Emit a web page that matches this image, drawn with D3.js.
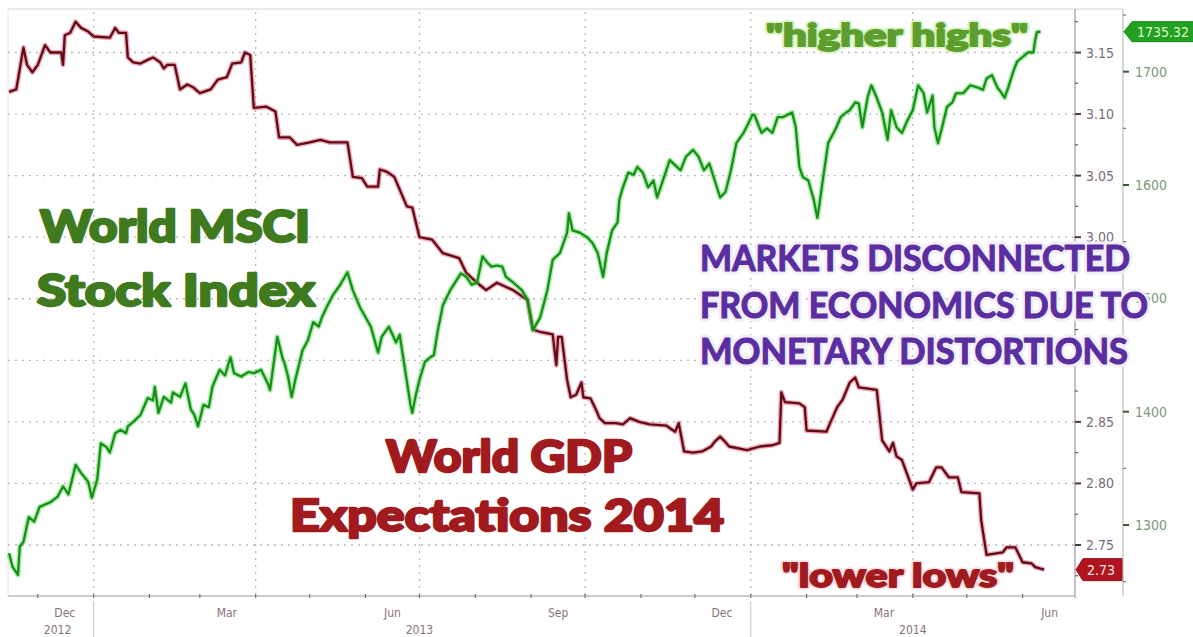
<!DOCTYPE html>
<html><head><meta charset="utf-8">
<script src="https://cdn.jsdelivr.net/npm/d3@7"></script>
<style>body{margin:0;background:#fff;} svg{display:block;}</style>
</head><body>
<svg id="c" width="1193" height="637"></svg>
<script>
// ---------- DATA ----------
const gdpDates = ["2012-11-15","2012-11-19","2012-11-20","2012-11-23","2012-11-25","2012-11-28","2012-12-01","2012-12-05","2012-12-08","2012-12-14","2012-12-15","2012-12-16","2012-12-19","2012-12-22","2012-12-25","2012-12-29","2013-01-01","2013-01-10","2013-01-13","2013-01-15","2013-01-19","2013-01-20","2013-01-23","2013-01-27","2013-01-31","2013-02-03","2013-02-07","2013-02-09","2013-02-11","2013-02-15","2013-02-18","2013-02-22","2013-02-25","2013-03-01","2013-03-07","2013-03-11","2013-03-16","2013-03-19","2013-03-24","2013-03-26","2013-03-29","2013-03-31","2013-04-07","2013-04-12","2013-04-14","2013-04-20","2013-04-24","2013-05-01","2013-05-07","2013-05-12","2013-05-22","2013-05-25","2013-05-30","2013-06-02","2013-06-08","2013-06-09","2013-06-13","2013-06-17","2013-06-24","2013-06-27","2013-07-01","2013-07-08","2013-07-14","2013-07-23","2013-07-27","2013-08-02","2013-08-07","2013-08-13","2013-08-16","2013-08-22","2013-08-30","2013-09-02","2013-09-06","2013-09-13","2013-09-15","2013-09-16","2013-09-18","2013-09-21","2013-09-23","2013-09-26","2013-09-29","2013-09-30","2013-10-04","2013-10-07","2013-10-09","2013-10-12","2013-10-18","2013-10-22","2013-10-26","2013-10-31","2013-11-06","2013-11-15","2013-11-20","2013-11-22","2013-11-25","2013-11-30","2013-12-05","2013-12-10","2013-12-12","2013-12-15","2013-12-17","2013-12-20","2013-12-30","2014-01-06","2014-01-13","2014-01-17","2014-01-18","2014-01-20","2014-01-28","2014-01-31","2014-02-01","2014-02-12","2014-02-15","2014-02-18","2014-02-21","2014-02-25","2014-02-28","2014-03-02","2014-03-12","2014-03-15","2014-03-19","2014-03-21","2014-03-23","2014-03-26","2014-03-30","2014-04-01","2014-04-03","2014-04-10","2014-04-14","2014-04-17","2014-04-21","2014-04-26","2014-04-28","2014-05-08","2014-05-09","2014-05-12","2014-05-21","2014-05-23","2014-05-28","2014-06-01","2014-06-06","2014-06-08","2014-06-13"];
const gdpValues = [3.118,3.120,3.128,3.154,3.140,3.134,3.140,3.156,3.150,3.150,3.140,3.164,3.166,3.175,3.170,3.167,3.163,3.162,3.170,3.166,3.166,3.146,3.142,3.141,3.144,3.146,3.142,3.137,3.140,3.140,3.120,3.124,3.122,3.117,3.120,3.128,3.130,3.141,3.142,3.150,3.148,3.105,3.106,3.102,3.081,3.081,3.075,3.077,3.079,3.077,3.077,3.049,3.048,3.041,3.041,3.055,3.053,3.049,3.025,3.024,3.000,2.998,2.987,2.983,2.971,2.963,2.957,2.963,2.961,2.957,2.949,2.925,2.923,2.921,2.896,2.919,2.919,2.884,2.870,2.872,2.882,2.870,2.869,2.860,2.853,2.849,2.849,2.848,2.853,2.850,2.848,2.847,2.842,2.849,2.826,2.825,2.826,2.830,2.834,2.838,2.835,2.830,2.827,2.830,2.831,2.833,2.874,2.866,2.865,2.862,2.843,2.842,2.852,2.862,2.868,2.882,2.886,2.878,2.876,2.835,2.826,2.833,2.822,2.819,2.803,2.795,2.800,2.801,2.813,2.813,2.805,2.805,2.793,2.792,2.770,2.742,2.744,2.748,2.748,2.736,2.735,2.732,2.730];

const msciDates = ["2012-11-15","2012-11-17","2012-11-20","2012-11-21","2012-11-23","2012-11-26","2012-11-29","2012-12-02","2012-12-05","2012-12-08","2012-12-12","2012-12-15","2012-12-18","2012-12-22","2012-12-25","2012-12-28","2012-12-29","2012-12-31","2013-01-03","2013-01-05","2013-01-08","2013-01-10","2013-01-13","2013-01-16","2013-01-19","2013-01-20","2013-01-23","2013-01-27","2013-01-31","2013-02-03","2013-02-04","2013-02-06","2013-02-09","2013-02-13","2013-02-14","2013-02-18","2013-02-21","2013-02-24","2013-02-26","2013-02-28","2013-03-03","2013-03-06","2013-03-08","2013-03-12","2013-03-15","2013-03-18","2013-03-20","2013-03-24","2013-03-28","2013-03-31","2013-04-04","2013-04-08","2013-04-09","2013-04-13","2013-04-16","2013-04-17","2013-04-19","2013-04-21","2013-04-23","2013-04-27","2013-04-30","2013-05-03","2013-05-06","2013-05-08","2013-05-11","2013-05-14","2013-05-18","2013-05-22","2013-05-25","2013-05-29","2013-06-04","2013-06-08","2013-06-10","2013-06-14","2013-06-18","2013-06-20","2013-06-23","2013-06-26","2013-06-27","2013-06-29","2013-07-01","2013-07-04","2013-07-07","2013-07-09","2013-07-11","2013-07-14","2013-07-18","2013-07-24","2013-07-27","2013-07-30","2013-08-02","2013-08-05","2013-08-08","2013-08-10","2013-08-13","2013-08-16","2013-08-18","2013-08-22","2013-08-27","2013-08-30","2013-09-02","2013-09-06","2013-09-10","2013-09-13","2013-09-17","2013-09-21","2013-09-22","2013-09-24","2013-09-28","2013-10-02","2013-10-05","2013-10-08","2013-10-11","2013-10-13","2013-10-16","2013-10-19","2013-10-20","2013-10-22","2013-10-25","2013-10-28","2013-10-30","2013-11-02","2013-11-05","2013-11-08","2013-11-10","2013-11-13","2013-11-17","2013-11-21","2013-11-23","2013-11-26","2013-11-30","2013-12-03","2013-12-06","2013-12-09","2013-12-12","2013-12-15","2013-12-18","2013-12-21","2013-12-24","2013-12-28","2014-01-02","2014-01-03","2014-01-07","2014-01-10","2014-01-13","2014-01-16","2014-01-19","2014-01-24","2014-01-26","2014-01-28","2014-01-30","2014-02-02","2014-02-05","2014-02-07","2014-02-08","2014-02-10","2014-02-13","2014-02-17","2014-02-20","2014-02-23","2014-02-25","2014-02-28","2014-03-02","2014-03-04","2014-03-07","2014-03-09","2014-03-12","2014-03-15","2014-03-18","2014-03-20","2014-03-23","2014-03-26","2014-03-29","2014-04-01","2014-04-04","2014-04-07","2014-04-09","2014-04-12","2014-04-13","2014-04-15","2014-04-17","2014-04-20","2014-04-23","2014-04-25","2014-04-29","2014-05-03","2014-05-07","2014-05-10","2014-05-12","2014-05-15","2014-05-18","2014-05-20","2014-05-22","2014-05-24","2014-05-27","2014-05-29","2014-06-01","2014-06-04","2014-06-07","2014-06-08","2014-06-09","2014-06-11"];
const msciValues = [1275,1263,1256,1281,1285,1307,1303,1316,1318,1320,1325,1334,1327,1353,1346,1340,1338,1324,1340,1372,1369,1364,1381,1384,1381,1387,1391,1397,1412,1410,1422,1399,1413,1408,1417,1413,1425,1402,1397,1387,1406,1404,1422,1437,1432,1448,1434,1431,1435,1434,1437,1424,1419,1466,1447,1443,1431,1413,1428,1454,1463,1479,1475,1484,1494,1503,1512,1523,1507,1492,1475,1452,1466,1475,1461,1468,1437,1406,1399,1415,1428,1444,1448,1450,1470,1494,1507,1522,1519,1512,1514,1537,1531,1528,1529,1528,1519,1514,1507,1499,1472,1483,1507,1534,1540,1558,1575,1560,1558,1554,1549,1540,1519,1540,1560,1567,1587,1598,1611,1609,1616,1611,1598,1604,1589,1603,1622,1616,1613,1625,1631,1625,1613,1619,1604,1589,1594,1613,1637,1646,1662,1662,1646,1650,1646,1660,1660,1664,1651,1616,1607,1604,1587,1571,1581,1604,1637,1649,1660,1664,1666,1673,1672,1651,1678,1688,1677,1664,1640,1666,1651,1646,1657,1666,1688,1681,1664,1679,1651,1637,1649,1669,1673,1681,1681,1688,1686,1684,1694,1697,1686,1682,1677,1686,1701,1709,1713,1717,1717,1728,1735,1735.32];

const gdpTicks = [3.15,3.10,3.05,3.00,2.95,2.90,2.85,2.80,2.75];
const gdpTickLabels = ["3.15","3.10","3.05","3.00","","","2.85","2.80","2.75"]; // 2.95 / 2.90 are hidden under the annotation
const gdpMinorTicks = [3.175,3.125,3.075,3.025,2.975,2.925,2.875,2.825,2.775,2.725];
const msciTicks = [1700,1600,1500,1400,1300];
const msciMinorTicks = [1750,1650,1550,1450,1350,1250];
const monthLabelNames = ["Dec","Mar","Jun","Sep","Dec","Mar","Jun"];
const monthLabelDates = ["2012-12-16","2013-03-16","2013-06-16","2013-09-16","2013-12-16","2014-03-16","2014-06-16"];
const yearLabelNames = ["2012","2013","2014"];
const yearLabelDates = ["2012-12-12","2013-07-01","2014-04-01"];
const yearBoundaries = ["2013-01-01","2014-01-01"];

// ---------- SETUP ----------
const parse = d3.timeParse("%Y-%m-%d");
const gdp = gdpDates.map((d,i)=>({date:parse(d), v:gdpValues[i]}));
const msci = msciDates.map((d,i)=>({date:parse(d), v:msciValues[i]}));

const L = 8, R = 1075, T = 9, B = 596, R2 = 1123;
const svg = d3.select("#c");
const axisFont = "Liberation Sans Narrow, DejaVu Sans Condensed, sans-serif";

const x = d3.scaleTime().domain([parse("2012-11-15"), parse("2014-06-29")]).range([9, 1073]);
const yG = d3.scaleLinear().domain([2.75, 3.15]).range([545, 52.5]);
const yM = d3.scaleLinear().domain([1300, 1700]).range([525, 71.7]);

// frame
svg.append("line").attr("x1",L).attr("x2",R2).attr("y1",T).attr("y2",T).attr("stroke","#d4d4d8").attr("stroke-width",1.2);
svg.append("line").attr("x1",L).attr("x2",L).attr("y1",T).attr("y2",B).attr("stroke","#e4e4e8").attr("stroke-width",1);

// gridlines
const grid = svg.append("g").attr("stroke","#b8b8b8").attr("stroke-width",1.3).attr("stroke-dasharray","2,5");
grid.selectAll("line.h").data(gdpTicks).join("line").attr("class","h")
  .attr("x1",L).attr("x2",R).attr("y1",d=>yG(d)).attr("y2",d=>yG(d));
grid.selectAll("line.v").data(x.ticks(d3.timeMonth.every(3))).join("line").attr("class","v")
  .attr("x1",d=>x(d)).attr("x2",d=>x(d)).attr("y1",T+3).attr("y2",B);

// x axis
svg.append("line").attr("x1",L).attr("x2",R).attr("y1",B).attr("y2",B).attr("stroke","#9a9a9a").attr("stroke-width",1.2);
svg.selectAll("line.mt").data(x.ticks(d3.timeMonth.every(1))).join("line").attr("class","mt")
  .attr("x1",d=>x(d)).attr("x2",d=>x(d)).attr("y1",B-2).attr("y2",B+2).attr("stroke","#777").attr("stroke-width",1.2);
svg.selectAll("text.mon").data(monthLabelDates).join("text").attr("class","mon")
  .attr("x",d=>x(parse(d))).attr("y",617).attr("text-anchor","middle")
  .attr("font-family",axisFont).attr("font-size",12)
  .attr("fill","#8a7078").text((d,i)=>monthLabelNames[i]);
svg.selectAll("text.yr").data(yearLabelDates).join("text").attr("class","yr")
  .attr("x",d=>x(parse(d))).attr("y",634).attr("text-anchor","middle")
  .attr("font-family",axisFont).attr("font-size",12)
  .attr("fill","#8a7078").text((d,i)=>yearLabelNames[i]);
svg.selectAll("line.yb").data(yearBoundaries).join("line").attr("class","yb")
  .attr("x1",d=>x(parse(d))).attr("x2",d=>x(parse(d))).attr("y1",601).attr("y2",637)
  .attr("stroke","#d0d0d0").attr("stroke-width",1.2);

// right axes
svg.append("line").attr("x1",R).attr("x2",R).attr("y1",T).attr("y2",B+2).attr("stroke","#a8a0a8").attr("stroke-width",1.3);
svg.append("line").attr("x1",R2).attr("x2",R2).attr("y1",T).attr("y2",B).attr("stroke","#b8c8b8").attr("stroke-width",1.3);

svg.selectAll("line.gt").data(gdpTicks).join("line").attr("class","gt")
  .attr("x1",R).attr("x2",R+6).attr("y1",d=>yG(d)).attr("y2",d=>yG(d)).attr("stroke","#4a3a4a").attr("stroke-width",2);
svg.selectAll("line.gmt").data(gdpMinorTicks).join("line").attr("class","gmt")
  .attr("x1",R).attr("x2",R+3).attr("y1",d=>yG(d)).attr("y2",d=>yG(d)).attr("stroke","#6a5a6a").attr("stroke-width",1.2);
svg.selectAll("text.gl").data(gdpTicks).join("text").attr("class","gl")
  .attr("x",R+11).attr("y",d=>yG(d)+5).attr("font-family",axisFont)
  .attr("font-size",14).attr("fill","#7a6a7a").text((d,i)=>gdpTickLabels[i]);

svg.selectAll("line.mtk").data(msciTicks).join("line").attr("class","mtk")
  .attr("x1",R2).attr("x2",R2+6).attr("y1",d=>yM(d)).attr("y2",d=>yM(d)).attr("stroke","#3a5a3a").attr("stroke-width",2);
svg.selectAll("line.mmt").data(msciMinorTicks).join("line").attr("class","mmt")
  .attr("x1",R2).attr("x2",R2+3).attr("y1",d=>yM(d)).attr("y2",d=>yM(d)).attr("stroke","#6a7a6a").attr("stroke-width",1.2);
svg.selectAll("text.ml").data(msciTicks).join("text").attr("class","ml")
  .attr("x",R2+12).attr("y",d=>yM(d)+5).attr("font-family",axisFont)
  .attr("font-size",14).attr("fill","#7a9a7a").text(d=>d);

// lines
const lineG = d3.line().x(d=>x(d.date)).y(d=>yG(d.v));
const lineM = d3.line().x(d=>x(d.date)).y(d=>yM(d.v));
svg.append("path").datum(gdp).attr("d",lineG).attr("fill","none").attr("stroke","#e0405a").attr("stroke-opacity",0.45).attr("stroke-width",5).attr("stroke-linejoin","round");
svg.append("path").datum(gdp).attr("d",lineG).attr("fill","none").attr("stroke","#5e0c16").attr("stroke-width",2.3).attr("stroke-linejoin","round");
svg.append("path").datum(msci).attr("d",lineM).attr("fill","none").attr("stroke","#40e040").attr("stroke-opacity",0.5).attr("stroke-width",5).attr("stroke-linejoin","round");
svg.append("path").datum(msci).attr("d",lineM).attr("fill","none").attr("stroke","#1a8a1a").attr("stroke-width",2.2).attr("stroke-linejoin","round");

// annotations (heavy text: glow copy behind + same-colour stroke for weight)
function txt(s, xx, yy, size, fill, len, opts={}){
  const fam = opts.family || "Lato, 'DejaVu Sans', sans-serif";
  const wt = opts.weight || 900;
  const mk = () => svg.append("text").attr("x",xx).attr("y",yy).attr("font-size",size)
    .attr("font-family",fam).attr("font-weight",wt)
    .attr("textLength",len).attr("lengthAdjust","spacingAndGlyphs").attr("stroke-linejoin","round").text(s);
  if (opts.glow){ mk().attr("fill",opts.glow).attr("stroke",opts.glow).attr("stroke-width",opts.gw||6); }
  mk().attr("fill",fill).attr("stroke",fill).attr("stroke-width",opts.sw===undefined?2:opts.sw);
}
txt("World MSCI", 40, 242, 43, "#3f7a1f", 270, {sw:2.4});
txt("Stock Index", 37, 306, 43, "#3f7a1f", 278, {sw:2.4});
txt("World GDP", 386, 472, 44, "#a01a1e", 246, {sw:2.4});
txt("Expectations 2014", 290, 531, 44, "#a01a1e", 434, {sw:2.4});
txt("\"higher highs\"", 766, 46, 31, "#5e9e2e", 262, {sw:1.8, glow:"#d4f4c0", gw:5});
txt("\"lower lows\"", 782, 587, 32, "#a01a1e", 232, {sw:1.8, glow:"#fbdde2", gw:5});

const purple = "#5a2ea0";
txt("MARKETS DISCONNECTED", 700, 271, 37, purple, 430, {weight:700, sw:1.2, glow:"#f2eef8", gw:7});
txt("FROM ECONOMICS DUE TO", 700, 318, 37, purple, 448, {weight:700, sw:1.2, glow:"#f2eef8", gw:7});
txt("MONETARY DISTORTIONS", 700, 364, 37, purple, 428, {weight:700, sw:1.2, glow:"#f2eef8", gw:7});

// last-value tags
const lastM = msci[msci.length-1], lastG = gdp[gdp.length-1];
const ym = yM(lastM.v);
svg.append("path").attr("d",`M${R2+1},${ym} L${R2+9},${ym-10} L1196,${ym-10} L1196,${ym+10} L${R2+9},${ym+10} Z`)
  .attr("fill","#22a022").attr("stroke","#118811").attr("stroke-width",1);
svg.append("text").attr("x",R2+14).attr("y",ym+5).attr("font-family",axisFont)
  .attr("font-size",14).attr("fill","#d8f8c8").text(d3.format(".2f")(lastM.v));
const yg = yG(lastG.v);
svg.append("path").attr("d",`M${R+1},${yg} L${R+8},${yg-11} L${R2-1},${yg-11} L${R2-1},${yg+11} L${R+8},${yg+11} Z`)
  .attr("fill","#b0141e").attr("stroke","#901018").attr("stroke-width",1);
svg.append("text").attr("x",R+12).attr("y",yg+5).attr("font-family",axisFont)
  .attr("font-size",14).attr("fill","#ffe8ea").text(d3.format(".2f")(lastG.v));
</script>
</body></html>
